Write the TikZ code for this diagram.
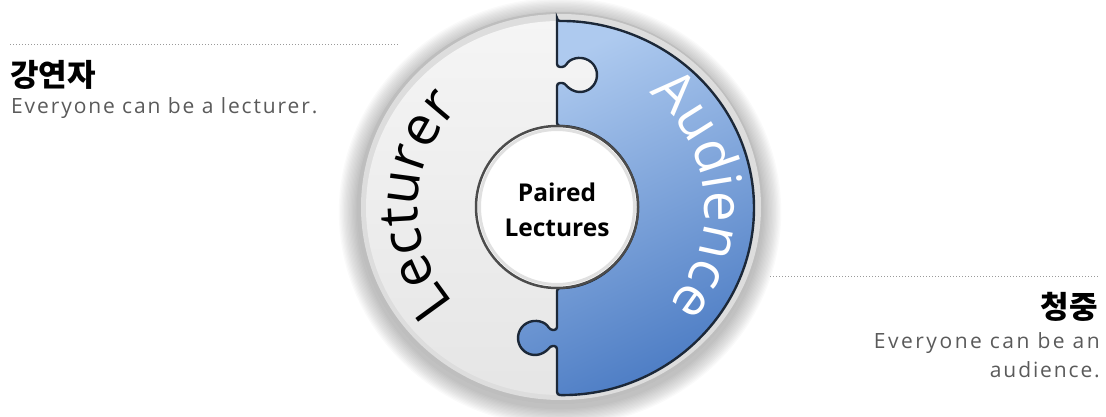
\documentclass[tikz,border=0pt]{standalone}
\usepackage{fontspec}
\setmainfont{Open Sans}
\newfontfamily\krfont{Noto Sans CJK KR}
\newfontfamily\descfont{Open Sans}[LetterSpace=9]
\newfontfamily\descwidefont{Open Sans}[LetterSpace=12]
\newfontfamily\arcfont{Open Sans}
\usetikzlibrary{decorations.text,calc}
\definecolor{bluelight}{HTML}{AECAEF}
\definecolor{bluedark}{HTML}{4C7CC4}
\definecolor{edgedark}{HTML}{1C2838}
\definecolor{rimouter}{HTML}{BEBEBE}
\definecolor{rimlight}{HTML}{DDDDDD}
\definecolor{desccol}{HTML}{5A5A5A}
\definecolor{dotcol}{HTML}{9A9A9A}
\tikzset{
  dotline/.style={draw=dotcol, line width=0.9pt, dash pattern=on 0.9pt off 2.1pt},
  krtitle/.style={inner sep=0pt, font=\krfont\bfseries\fontsize{31}{31}\selectfont, text=black},
  desctext/.style={inner sep=0pt, font=\descfont\fontsize{21}{21}\selectfont, text=desccol},
  descwide/.style={inner sep=0pt, font=\descwidefont\fontsize{21}{21}\selectfont, text=desccol},
  hubnode/.style={circle, minimum size=162pt, inner sep=0pt, fill=white, draw=black!70, line width=2.5pt},
  hubtext/.style={align=center, inner sep=0pt, font=\bfseries\fontsize{24.5}{35}\selectfont},
}
\begin{document}
\begin{tikzpicture}[x=1pt,y=1pt]
\useasboundingbox (0,0) rectangle (1106,416);
\coordinate (C) at (560,208);
% dotted guide lines
\coordinate (la) at (10,372);
\coordinate (lb) at (398,372);
\coordinate (ra) at (770,140);
\coordinate (rb) at (1098,140);
\path[dotline] (la) -- (lb);
\path[dotline] (ra) -- (rb);
% soft shadow
\foreach \i in {1,...,14}
  \fill[black, opacity=0.02] (560,204) ellipse[x radius={203+\i*1.3}, y radius={196+\i*1.3}];
% rim
\fill[rimouter] (C) ellipse[x radius=203, y radius=196];
\fill[rimlight] (561,209) ellipse[x radius=200, y radius=193];
% lecturer half (whole disc)
\shade[top color=white!96!black, bottom color=white!90!black] (C) ellipse[x radius=194, y radius=187];
% audience piece
\draw[edgedark, line width=2.4pt, rounded corners=3pt, top color=bluelight, bottom color=bluedark, shading angle=25]
  (557,395) -- (557,349) -- (565,349) arc[start angle=152, end angle=-152, radius=17]
  -- (557,333) -- (557,290) arc[start angle=90, end angle=-90, radius=81]
  -- (557,86) -- (550,86) arc[start angle=28, end angle=332, radius=17]
  -- (557,70) -- (557,21) arc[start angle=-90.886, end angle=90.886, x radius=194, y radius=187] -- cycle;
% curved labels
\path[decorate, decoration={text along path, text align=center, text color=black,
   text={|\arcfont\fontsize{55}{55}\selectfont|Lecturer}}]
   ($(C)+(258.5:142)$) arc[start angle=258.5, end angle=98.5, radius=142];
\path[decorate, decoration={text along path, text align=center, text color=white,
   text={|\arcfont\fontsize{55}{55}\selectfont|Audience}}]
   ($(C)+(95.5:145)$) arc[start angle=95.5, end angle=-84.5, radius=145];
% hub
\node[hubnode] (hub) at (557,209) {};
\draw[black!12, line width=3pt] (hub.center) circle[radius=77.5];
\node[hubtext] (hubt) at (557,206) {Paired\\Lectures};
% side texts
\node[krtitle, anchor=base west] (krL) at (10,330) {강연자};
\node[desctext, anchor=base west] (enL) at (11,302) {Everyone can be a lecturer.};
\node[krtitle, anchor=base east] (krR) at (1098,98) {청중};
\node[descwide, anchor=base east] (enR1) at (1100,68) {Everyone can be an};
\node[desctext, anchor=base east] (enR2) at (1100,39) {audience.};
\end{tikzpicture}
\end{document}
